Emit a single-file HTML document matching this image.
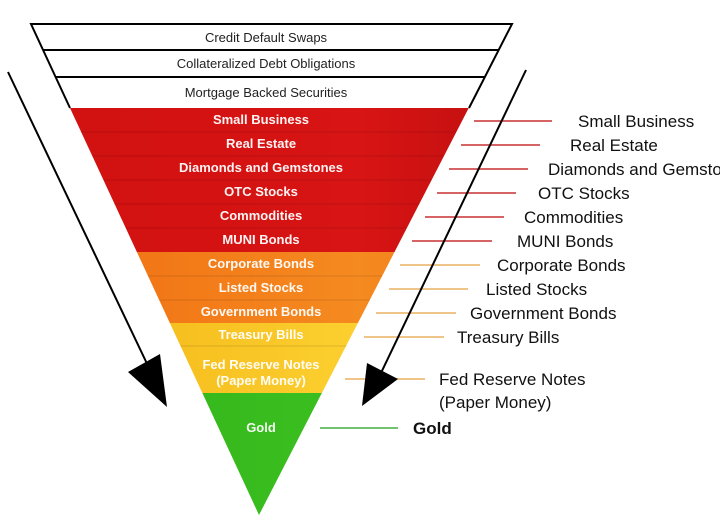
<!DOCTYPE html>
<html><head><meta charset="utf-8"><style>
body{margin:0;background:#fff;width:720px;height:527px;overflow:hidden}
svg text{font-family:"Liberation Sans",sans-serif}
</style></head><body>
<svg width="720" height="527" viewBox="0 0 720 527">
<defs>
<clipPath id="tri"><polygon points="31,24 512,24 259,515"/></clipPath>
<linearGradient id="red" x1="0" x2="1"><stop offset="0" stop-color="#d01010"/><stop offset="0.5" stop-color="#d81414"/><stop offset="1" stop-color="#a00808"/></linearGradient>
<linearGradient id="org" x1="0" x2="1"><stop offset="0" stop-color="#f06a10"/><stop offset="0.5" stop-color="#f58a20"/><stop offset="1" stop-color="#e05a08"/></linearGradient>
<linearGradient id="yel" x1="0" x2="1"><stop offset="0" stop-color="#f0b010"/><stop offset="0.5" stop-color="#fcd030"/><stop offset="1" stop-color="#e8a808"/></linearGradient>
<linearGradient id="grn" x1="0" x2="1"><stop offset="0" stop-color="#30b018"/><stop offset="0.5" stop-color="#3cc020"/><stop offset="1" stop-color="#22a010"/></linearGradient>
</defs>
<g clip-path="url(#tri)">
<rect x="0" y="24" width="720" height="84" fill="#fff"/>
<rect x="0" y="108" width="720" height="144" fill="url(#red)"/>
<rect x="0" y="252" width="720" height="71" fill="url(#org)"/>
<rect x="0" y="323" width="720" height="70" fill="url(#yel)"/>
<rect x="0" y="393" width="720" height="130" fill="url(#grn)"/>
<g stroke="#000" stroke-opacity="0.12" stroke-width="1">
<line x1="0" y1="132" x2="720" y2="132"/><line x1="0" y1="156" x2="720" y2="156"/><line x1="0" y1="180" x2="720" y2="180"/><line x1="0" y1="204" x2="720" y2="204"/><line x1="0" y1="228" x2="720" y2="228"/><line x1="0" y1="276" x2="720" y2="276"/><line x1="0" y1="300" x2="720" y2="300"/><line x1="0" y1="346" x2="720" y2="346"/>
</g>
<g stroke="#000" stroke-width="2"><line x1="0" y1="50" x2="720" y2="50"/><line x1="0" y1="77" x2="720" y2="77"/></g>
</g>
<polyline points="70,108 31,24 512,24 469,108" fill="none" stroke="#000" stroke-width="2"/>
<g font-size="13" fill="#222" text-anchor="middle">
<text x="266" y="42">Credit Default Swaps</text>
<text x="266" y="68">Collateralized Debt Obligations</text>
<text x="266" y="97">Mortgage Backed Securities</text>
</g>
<g font-size="13" font-weight="bold" fill="#fff" text-anchor="middle" fill-opacity="0.95">
<text x="261" y="124">Small Business</text>
<text x="261" y="148">Real Estate</text>
<text x="261" y="172">Diamonds and Gemstones</text>
<text x="261" y="196">OTC Stocks</text>
<text x="261" y="220">Commodities</text>
<text x="261" y="244">MUNI Bonds</text>
<text x="261" y="268">Corporate Bonds</text>
<text x="261" y="292">Listed Stocks</text>
<text x="261" y="316">Government Bonds</text>
<text x="261" y="339">Treasury Bills</text>
<text x="261" y="369">Fed Reserve Notes</text>
<text x="261" y="385">(Paper Money)</text>
<text x="261" y="432">Gold</text>
</g>
<g stroke-width="1.5">
<g stroke="#c83030">
<line x1="474" y1="121" x2="552" y2="121"/><line x1="461" y1="145" x2="540" y2="145"/><line x1="449" y1="169" x2="528" y2="169"/><line x1="437" y1="193" x2="516" y2="193"/><line x1="425" y1="217" x2="504" y2="217"/><line x1="412" y1="241" x2="492" y2="241"/>
</g>
<g stroke="#e8b060">
<line x1="400" y1="265" x2="480" y2="265"/><line x1="389" y1="289" x2="468" y2="289"/><line x1="376" y1="313" x2="456" y2="313"/><line x1="364" y1="337" x2="444" y2="337"/><line x1="345" y1="379" x2="425" y2="379"/>
</g>
<line x1="320" y1="428" x2="398" y2="428" stroke="#40b040"/>
</g>
<g font-size="17" fill="#111">
<text x="578" y="127">Small Business</text>
<text x="570" y="151">Real Estate</text>
<text x="548" y="175">Diamonds and Gemstones</text>
<text x="538" y="199">OTC Stocks</text>
<text x="524" y="223">Commodities</text>
<text x="517" y="247">MUNI Bonds</text>
<text x="497" y="271">Corporate Bonds</text>
<text x="486" y="295">Listed Stocks</text>
<text x="470" y="319">Government Bonds</text>
<text x="457" y="343">Treasury Bills</text>
<text x="439" y="385">Fed Reserve Notes</text>
<text x="439" y="408">(Paper Money)</text>
<text x="413" y="434" font-weight="bold">Gold</text>
</g>
<line x1="8" y1="72" x2="150" y2="370" stroke="#000" stroke-width="2"/>
<polygon points="128,372 160,354 167,407" fill="#000"/>
<line x1="526" y1="70" x2="380" y2="375" stroke="#000" stroke-width="2"/>
<polygon points="367,363 398,379 362,406" fill="#000"/>
</svg>
</body></html>
